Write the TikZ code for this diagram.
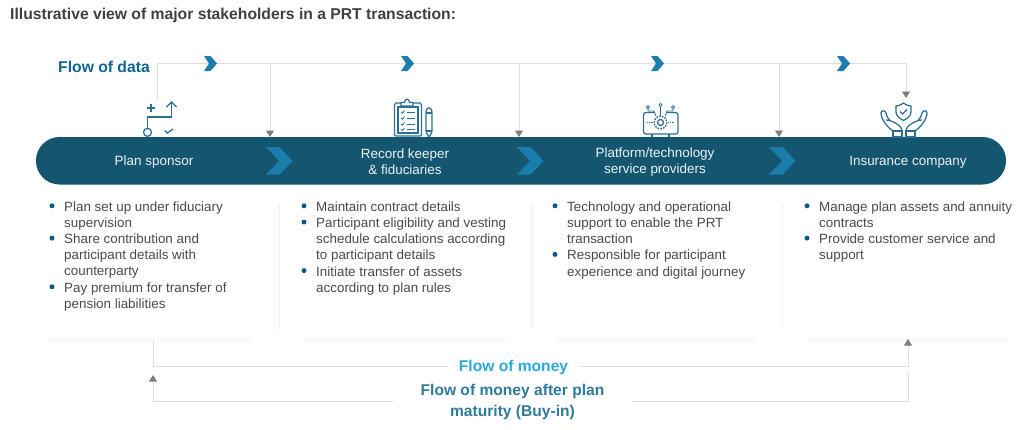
\documentclass[tikz,border=0pt]{standalone}
\usepackage{fontspec}
\setmainfont{Liberation Sans}
\usetikzlibrary{arrows.meta}
\definecolor{barblue}{HTML}{14566F}
\definecolor{chevblue}{HTML}{1A7DAB}
\definecolor{datablue}{HTML}{0F6591}
\definecolor{moneyblue}{HTML}{29A9E0}
\definecolor{buyinblue}{HTML}{2F7B9A}
\definecolor{iconblue}{HTML}{2A6F8F}
\definecolor{dotblue}{HTML}{0B5A8F}
\definecolor{linegray}{HTML}{DDDDDD}
\definecolor{tipgray}{HTML}{7F7F7F}
\definecolor{textgray}{HTML}{4A4A4A}
\definecolor{faintgray}{HTML}{EBEBEB}
\tikzset{
    flowline/.style={draw=linegray, line width=0.9pt},
    flowtip/.style={flowline, -{Triangle[width=8pt, length=6.5pt, color=tipgray, fill=tipgray]}},
    faintline/.style={draw=faintgray, line width=0.6pt, densely dotted},
    iconline/.style={draw=iconblue, line width=1.25pt},
    barlabel/.style={text=white!92!barblue, font=\fontsize{13.45}{16.2}\selectfont, align=center},
    itemtext/.style={anchor=north west, inner sep=0pt, text=textgray, font=\fontsize{13.4}{16.2}\selectfont, align=left},
    itemdot/.style={circle, fill=dotblue, inner sep=0pt, minimum size=5pt}
}
\begin{document}
\begin{tikzpicture}[x=1pt, y=-1pt]
    \useasboundingbox (0, 0) rectangle (1024, 429);

    \node[anchor=west, inner sep=0pt, text=black!75, font=\fontsize{15.7}{18}\selectfont\bfseries] (title) at (10, 15) {Illustrative view of major stakeholders in a PRT transaction:};
    \node[anchor=west, inner sep=0pt, text=datablue, font=\fontsize{15.7}{18}\selectfont\bfseries] (flowdata) at (58, 67) {Flow of data};

    % flow of data
    \coordinate (datastart) at (157, 100); \coordinate (dataleft) at (157, 63);
    \coordinate (dataright) at (906, 63); \coordinate (dataend) at (906, 98);
    \draw[flowline] (datastart) -- (dataleft) -- (dataright);
    \draw[flowtip] (dataright) -- (dataend);
    \foreach \x [count=\i] in {270, 519, 779} {
        \coordinate (branch\i) at (\x, 63);
        \coordinate (drop\i) at (\x, 137);
        \draw[flowtip] (branch\i) -- (drop\i);
    }
    \foreach \x in {204, 401, 651, 837}
        \fill[chevblue] (\x, 56) -- ++(6.5, 0) -- ++(6.5, 7.5) -- ++(-6.5, 7.5) -- ++(-6.5, 0) -- ++(5, -7.5) -- cycle;

    % main bar
    \fill[barblue, rounded corners=23.5pt] (36, 137) rectangle (1006, 184.5);
    \foreach \x in {266, 517, 769}
        \fill[chevblue] (\x, 147) -- ++(13.5, 0) -- ++(13, 14) -- ++(-13, 13.5) -- ++(-13.5, 0) -- ++(13, -13.5) -- cycle;
    \node[barlabel] (sponsor) at (154, 162) {Plan sponsor};
    \node[barlabel] (keeper) at (405, 162) {Record keeper\\\& fiduciaries};
    \node[barlabel] (platform) at (655, 162) {Platform/technology\\service providers};
    \node[barlabel] (insurer) at (908, 162) {Insurance company};

    % plan sponsor icon
    \begin{scope}[iconline]
        \draw (147.5, 132.3) circle (4);
        \draw (147.5, 128.3) -- (147.5, 117) -- (171.5, 117) -- (171.5, 102);
        \draw (166.5, 107) -- (171.5, 102) -- (176.5, 107);
        \draw (147, 108) -- (155, 108); \draw (151, 104) -- (151, 112);
        \draw (164.5, 130.5) -- (167.5, 133) -- (173, 129);
    \end{scope}

    % record keeper icon
    \begin{scope}[iconline]
        \draw[rounded corners=1.5pt] (401, 103) -- (394.5, 103) -- (394.5, 136) -- (421.5, 136) -- (421.5, 103) -- (413, 103);
        \draw (398, 107) rectangle (418, 133);
        \draw (401, 106) -- (401, 102.5) -- (404.5, 102.5) .. controls (404.5, 98) and (409.5, 98) .. (409.5, 102.5) -- (413, 102.5) -- (413, 106) -- cycle;
        \foreach \y in {112, 118, 124, 129.5} {
            \draw[line width=0.8pt] (407, \y) -- (415, \y);
            \draw[line width=0.8pt] (401, \y) -- (402.5, \y + 1.2) -- (404.5, \y - 1.5);
        }
        \draw[rounded corners=1pt] (426, 111) -- (426, 132) -- (429, 137) -- (432, 132) -- (432, 111) -- (430.5, 108) -- (427.5, 108) -- cycle;
        \draw (426, 113) -- (432, 113);
        \draw (426, 131) -- (432, 131);
    \end{scope}

    % platform icon
    \begin{scope}[iconline]
        \draw[rounded corners=2.5pt] (654, 112.5) -- (643.5, 112.5) -- (643.5, 134) -- (678, 134) -- (678, 112.5) -- (667, 112.5);
        \draw (652, 134) -- (652, 137); \draw (669, 134) -- (669, 137);
        \draw (660.5, 122.5) circle (3);
        \draw[dash pattern=on 1.6pt off 1.2pt, line width=1.4pt] (660.5, 122.5) circle (6.3);
        \draw[densely dotted, line width=0.8pt] (647, 122.5) -- (653, 122.5);
        \draw[densely dotted, line width=0.8pt] (668, 122.5) -- (674, 122.5);
        \draw[line width=0.8pt] (660.5, 116) -- (660.5, 106.5);
        \draw[line width=0.8pt] (648, 109) -- (648, 111) -- (654, 111) -- (656, 116);
        \draw[line width=0.8pt] (673, 109) -- (673, 111) -- (667, 111) -- (665, 116);
        \draw[line width=0.8pt] (660.5, 105) circle (1.6);
        \draw[line width=0.8pt] (648, 107.3) circle (1.6);
        \draw[line width=0.8pt] (673, 107.3) circle (1.6);
    \end{scope}

    % insurance icon
    \begin{scope}[iconline]
        \draw (903.5, 103) .. controls (900, 105.5) and (898, 106) .. (896, 106) -- (896, 112) .. controls (896, 116) and (900, 118.5) .. (903.5, 120.5) .. controls (907, 118.5) and (911, 116) .. (911, 112) -- (911, 106) .. controls (909, 106) and (907, 105.5) .. (903.5, 103) -- cycle;
        \draw (900, 111.5) -- (902.5, 114) -- (907, 109.5);
        \foreach \s in {1, -1} {
            \begin{scope}[shift={(904, 0)}, xscale=\s]
                \draw (-11, 131) .. controls (-17, 127) and (-23, 119) .. (-23, 113) .. controls (-23, 110) and (-19, 110) .. (-18, 113) .. controls (-17.5, 116) and (-16, 119) .. (-14, 120.5);
                \draw (-18, 120) .. controls (-13, 120) and (-2, 125) .. (-2, 131);
                \draw (-11, 131) rectangle (-2, 137);
            \end{scope}
        }
    \end{scope}

    % separators
    \foreach \x [count=\i] in {279, 531, 782} {
        \coordinate (septop\i) at (\x, 204);
        \coordinate (sepend\i) at (\x, 330);
        \draw[faintline] (septop\i) -- (sepend\i);
    }
    \foreach \a/\b [count=\i] in {48/252, 303/507, 557/757, 807/1008} {
        \coordinate (ruleleft\i) at (\a, 339.5);
        \coordinate (ruleright\i) at (\b, 339.5);
        \draw[faintline] (ruleleft\i) -- (ruleright\i);
    }

    % item lists
    \node[itemtext] (item1) at (64, 201.3) {Plan set up under fiduciary\\supervision};
    \node[itemtext] (item2) at (64, 233.6) {Share contribution and\\participant details with\\counterparty};
    \node[itemtext] (item3) at (64, 282.3) {Pay premium for transfer of\\pension liabilities};
    \node[itemtext] (item4) at (316, 201.3) {Maintain contract details};
    \node[itemtext] (item5) at (316, 217.5) {Participant eligibility and vesting\\schedule calculations according\\to participant details};
    \node[itemtext] (item6) at (316, 266.1) {Initiate transfer of assets\\according to plan rules};
    \node[itemtext] (item7) at (567, 201.3) {Technology and operational\\support to enable the PRT\\transaction};
    \node[itemtext] (item8) at (567, 249.9) {Responsible for participant\\experience and digital journey};
    \node[itemtext] (item9) at (819, 201.3) {Manage plan assets and annuity\\contracts};
    \node[itemtext] (item10) at (819, 233.6) {Provide customer service and\\support};
    \foreach \i in {1, ..., 10}
        \node[itemdot] (dot\i) at ([shift={(-12, 4.5)}]item\i.north west) {};

    % flow of money
    \node[inner sep=0pt, minimum width=131pt, text height=13pt, text depth=3pt, text=moneyblue, font=\fontsize{15.6}{18}\selectfont\bfseries] (money) at (513.5, 366) {Flow of money};
    \node[inner sep=0pt, minimum width=239pt, text=buyinblue, align=center, font=\fontsize{15.6}{21}\selectfont\bfseries] (buyin) at (512.5, 402) {Flow of money after plan\\maturity (Buy-in)};
    \coordinate (moneystart) at (153, 340); \coordinate (moneyend) at (908, 339);
    \coordinate (buyinstart) at (908, 373); \coordinate (buyinend) at (153, 375);
    \coordinate (buyinright) at (632, 401); \coordinate (buyinleft) at (393, 401);
    \draw[flowline] (moneystart) |- (money.west);
    \draw[flowtip] (money.east) -| (moneyend);
    \draw[flowline] (buyinstart) |- (buyinright);
    \draw[flowtip] (buyinleft) -| (buyinend);
\end{tikzpicture}
\end{document}
